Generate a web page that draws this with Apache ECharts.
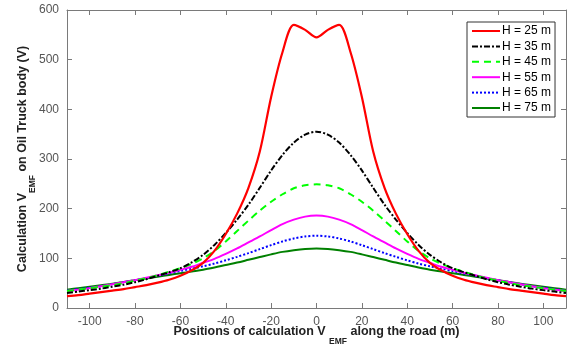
<!DOCTYPE html>
<html><head><meta charset="utf-8">
<script src="https://cdn.jsdelivr.net/npm/echarts@6/dist/echarts.min.js"></script>
<style>html,body{margin:0;padding:0;background:#fff}#c{width:571px;height:355px}</style>
</head><body><div id="c"></div>
<script>
var positions = [-110,-105,-100,-95,-90,-85,-80,-75,-70,-65,-60,-55,-50,-45,-40,-35,-30,-25,-20,-15,-10,-5,0,5,10,15,20,25,30,35,40,45,50,55,60,65,70,75,80,85,90,95,100,105,110];
var h25 = [24,26,29,32,35,38,42,46,51,57,65,76,91,115,149,190,242,315,425,515,570,560,545,560,570,515,425,315,242,190,149,115,91,76,65,57,51,46,42,38,35,32,29,26,24];
var h35 = [30,33,36,39,43,47,52,58,65,72,80,92,107,127,151,178,208,242,277,308,333,349,355,349,333,308,277,242,208,178,151,127,107,92,80,72,65,58,52,47,43,39,36,33,30];
var h45 = [34,37,40,43,46,50,55,60,66,73,80,89,100,115,134,155,176,196,214,229,241,247,249,247,241,229,214,196,176,155,134,115,100,89,80,73,66,60,55,50,46,43,40,37,34];
var h55 = [34,37,40,44,48,52,56,61,66,71,77,83,91,99,109,120,132,144,157,169,178,184,186,184,178,169,157,144,132,120,109,99,91,83,77,71,66,61,56,52,48,44,40,37,34];
var h65 = [35,38,41,44,48,52,56,60,65,69.5,74.5,79,84,89.5,96,103,110.5,118.5,126.5,134,140,144,145.5,144,140,134,126.5,118.5,110.5,103,96,89.5,84,79,74.5,69.5,65,60,56,52,48,44,41,38,35];
var h75 = [37,40,43,46,49,52.5,56,59.5,63,66.5,70,73.5,77,81.5,86.5,91.5,97,102.5,108,113,116.5,119,120,119,116.5,113,108,102.5,97,91.5,86.5,81.5,77,73.5,70,66.5,63,59.5,56,52.5,49,46,43,40,37];
var seriesNames = ['H = 25 m','H = 35 m','H = 45 m','H = 55 m','H = 65 m','H = 75 m'];
var xTickLabels = [-100,-80,-60,-40,-20,0,20,40,60,80,100];
var yTickLabels = [0,100,200,300,400,500,600];

var FONT = "'Liberation Sans', Arial, sans-serif";
function pairs(vals){ return positions.map(function(x,i){ return [x, vals[i]]; }); }
var styles = [
  {color:'#ff0000', type:'solid', width:2.2},
  {color:'#000000', type:[6,2,2,2], width:2},
  {color:'#00ff00', type:[7,5], width:2},
  {color:'#ff00ff', type:'solid', width:2},
  {color:'#0000ff', type:[2,2], width:2},
  {color:'#008000', type:'solid', width:2}
];
var allVals = [h25,h35,h45,h55,h65,h75];
var series = allVals.map(function(v,i){
  return {
    name: seriesNames[i], type:'line', data: pairs(v), smooth:0.3, showSymbol:false, symbol:'none',
    lineStyle: {color: styles[i].color, type: styles[i].type, width: styles[i].width},
    itemStyle: {color: styles[i].color}, z: 10 - i
  };
});
function xFmt(v){ return xTickLabels.indexOf(Math.round(v)) >= 0 && Math.abs(v - Math.round(v)) < 1e-6 ? String(Math.round(v)) : ''; }
function yFmt(v){ return yTickLabels.indexOf(v) >= 0 ? String(v) : ''; }
var axisLineStyle = {color:'#7a7a7a', width:1};
var xCommon = {type:'value', min:-110, max:110, splitNumber:11, minInterval:20, maxInterval:20};
var chart = echarts.init(document.getElementById('c'));
chart.setOption({
  backgroundColor:'#fff',
  animation:false,
  grid:{left:67, right:5, top:10, bottom:47, outerBoundsMode:'none', containLabel:false},
  legend:{
    orient:'vertical', left:467, top:22, data:seriesNames,
    itemWidth:28, itemHeight:12, itemGap:3.4,
    itemStyle:{opacity:0},
    padding:[3,4,3,4], borderColor:'#333', borderWidth:1, backgroundColor:'#fff',
    textStyle:{fontFamily:FONT, fontSize:12, color:'#000', padding:[0,0,0,-3]}
  },
  xAxis:[Object.assign({}, xCommon, {
    position:'bottom',
    axisLine:{show:true, onZero:false, lineStyle:axisLineStyle},
    axisTick:{show:true, inside:true, length:5, lineStyle:axisLineStyle},
    axisLabel:{formatter:xFmt, showMinLabel:false, showMaxLabel:false, margin:8, color:'#555', fontFamily:FONT, fontSize:12},
    splitLine:{show:false},
    name:'{a|Positions of calculation V }{s|EMF}{a| along the road (m)}',
    nameLocation:'middle', nameGap:9, nameMoveOverlap:false,
    nameTextStyle:{rich:{
      a:{fontFamily:FONT, fontSize:12.5, fontWeight:'bold', color:'#222'},
      s:{fontFamily:FONT, fontSize:8.5, fontWeight:'bold', color:'#222', padding:[20,0,0,0]}
    }}
  }), Object.assign({}, xCommon, {
    position:'top',
    axisLine:{show:true, onZero:false, lineStyle:axisLineStyle},
    axisTick:{show:true, inside:true, length:5, lineStyle:axisLineStyle},
    axisLabel:{show:false}, splitLine:{show:false}
  })],
  yAxis:[{
    type:'value', min:0, max:600, interval:100, position:'left',
    axisLine:{show:true, onZero:false, lineStyle:axisLineStyle},
    axisTick:{show:true, inside:true, length:5, lineStyle:axisLineStyle},
    axisLabel:{formatter:yFmt, margin:8, color:'#555', fontFamily:FONT, fontSize:12},
    splitLine:{show:false},
    name:'{a|Calculation V}{s|EMF}{a| on Oil Truck body (V)}',
    nameLocation:'middle', nameGap:29.5, nameRotate:90, nameMoveOverlap:false,
    nameTextStyle:{rich:{
      a:{fontFamily:FONT, fontSize:12.5, fontWeight:'bold', color:'#222'},
      s:{fontFamily:FONT, fontSize:8.5, fontWeight:'bold', color:'#222', padding:[20,0,0,0]}
    }}
  },{
    type:'value', min:0, max:600, interval:100, position:'right',
    axisLine:{show:true, onZero:false, lineStyle:axisLineStyle},
    axisTick:{show:true, inside:true, length:5, lineStyle:axisLineStyle},
    axisLabel:{show:false}, splitLine:{show:false}
  }],
  series: series
});
</script></body></html>
